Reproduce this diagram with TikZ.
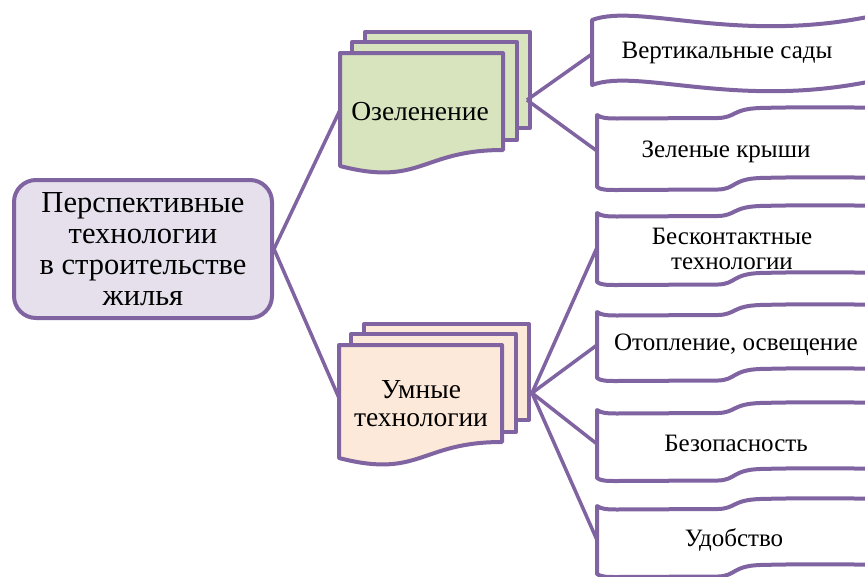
\documentclass[tikz,border=0pt]{standalone}
\usepackage{fontspec}
\setmainfont{Liberation Serif}
\newfontfamily\tnr{Liberation Serif}
\begin{document}
\begin{tikzpicture}[x=1pt,y=-1pt]
\definecolor{bord}{RGB}{128,100,162}
\definecolor{rootfill}{RGB}{229,224,236}
\definecolor{greenfill}{RGB}{215,228,189}
\definecolor{peachfill}{RGB}{253,233,217}
\tikzset{
  rootbox/.style={draw=bord,fill=rootfill,line width=4pt,rounded corners=22pt,
    minimum width=258pt,minimum height=138pt,align=center,inner sep=0pt,
    font=\tnr\fontsize{30.5}{31}\selectfont},
  docpage/.style={draw=bord,line width=4pt,line join=round},
  wavebox/.style={draw=bord,fill=white,line width=4pt,line join=round},
  doctext/.style={align=center,inner sep=0pt,font=\tnr\fontsize{27.5}{28}\selectfont},
  wavetext/.style={align=center,inner sep=0pt,font=\tnr\fontsize{25}{25}\selectfont},
  conn/.style={draw=bord,line width=3.5pt}
}
\useasboundingbox (0,0) rectangle (865,576);
\fill[white] (0,0) rectangle (865,576);

% root
\node[rootbox] (root) at (143,249) {\raisebox{3pt}{\parbox{258pt}{\centering Перспективные\\технологии\\в строительстве\\жилья}}};

% multidocument macro: #1 left x, #2 top y, #3 fill
\newcommand\multidoc[3]{%
  \filldraw[docpage,fill=#3] (#1+25,#2-21) rectangle (#1+190,#2+75);
  \filldraw[docpage,fill=#3] (#1+12,#2-11) rectangle (#1+177,#2+87);
  \filldraw[docpage,fill=#3] (#1,#2) -- (#1+163,#2) -- (#1+163,#2+97)
     .. controls (#1+81,#2+97) and (#1+81,#2+134) .. (#1,#2+113) -- cycle;
}
\multidoc{340}{53}{greenfill}
\multidoc{339}{345}{peachfill}
\node[doctext] (green) at (420,112) {Озеленение};
\node[doctext] (smart) at (421,404) {Умные\\технологии};
\coordinate (greenL) at (340,110);
\coordinate (greenR) at (527,100);
\coordinate (smartL) at (339,398);
\coordinate (smartR) at (532,393);

% wave boxes
\newcommand\wavebox[3]{% #1 name, #2 top y, #3 height
  \filldraw[wavebox] (597,#2) .. controls (601,#2+3) and (607,#2+3.5) .. (617,#2+3.5)
    -- (718,#2+3) .. controls (736,#2+2.5) and (732,#2-6) .. (760,#2-7)
    .. controls (800,#2-8) and (840,#2-8) .. (880,#2-7)
    -- (880,#2+#3-9) .. controls (840,#2+#3-10) and (800,#2+#3-10) .. (760,#2+#3-9)
    .. controls (732,#2+#3-8) and (736,#2+#3+2) .. (718,#2+#3+2.5)
    -- (617,#2+#3+3) .. controls (607,#2+#3+3) and (601,#2+#3+3) .. (597,#2+#3)
    -- cycle;
  \coordinate (#1) at (597,#2+#3/2);
}
% vertical gardens (sine wave)
\filldraw[wavebox] (592,20) .. controls (640,2) and (745,48) .. (890,12)
  -- (890,77) .. controls (745,113) and (640,67) .. (592,85) -- cycle;
\coordinate (vgL) at (592,54);
\node[wavetext] (vg) at (727,53) {Вертикальные сады};

\wavebox{grL}{115}{72}
\node[wavetext] (gr) at (726,152) {Зеленые крыши};
\wavebox{ctL}{213}{69}
\node[wavetext] (ct) at (732,249) {Бесконтактные\\технологии};
\wavebox{hlL}{312}{66}
\node[wavetext] (hl) at (736,345) {Отопление, освещение};
\wavebox{sfL}{410}{68}
\node[wavetext] (sf) at (736,443) {Безопасность};
\wavebox{cfL}{506}{68}
\node[wavetext] (cf) at (734,540) {Удобство};

% connectors
\draw[conn] (root.east) -- (greenL);
\draw[conn] (root.east) -- (smartL);
\draw[conn] (greenR) -- (vgL);
\draw[conn] (greenR) -- (grL);
\draw[conn] (smartR) -- (ctL);
\draw[conn] (smartR) -- (hlL);
\draw[conn] (smartR) -- (sfL);
\draw[conn] (smartR) -- (cfL);
\end{tikzpicture}
\end{document}
